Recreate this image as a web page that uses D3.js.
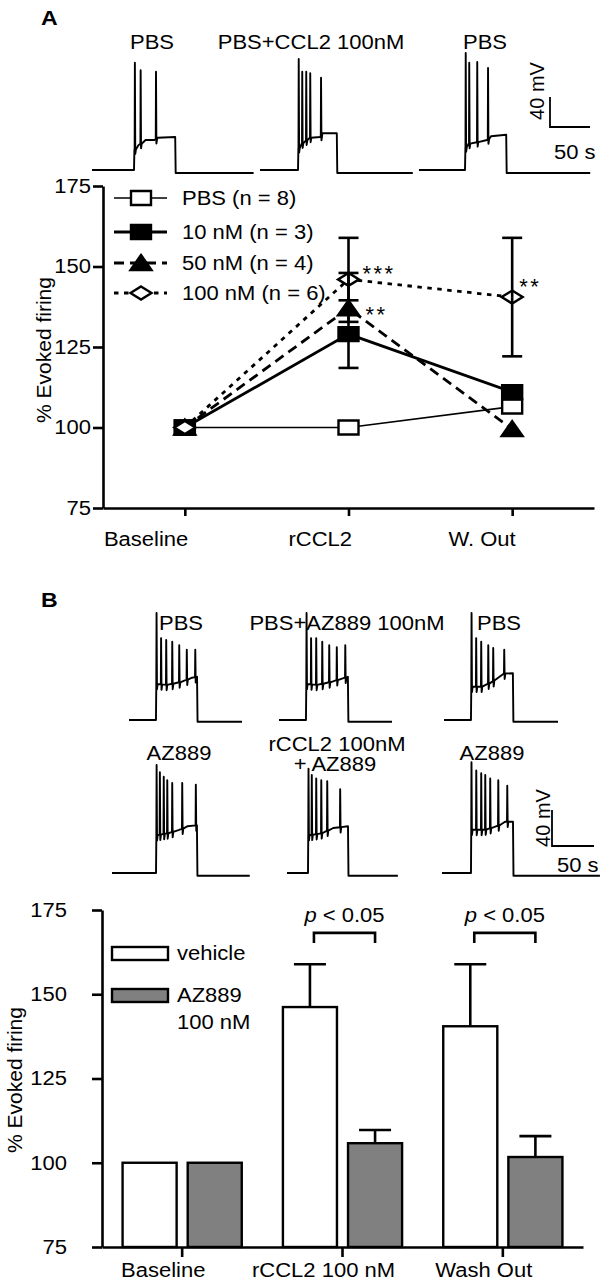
<!DOCTYPE html>
<html><head><meta charset="utf-8">
<script src="https://cdn.jsdelivr.net/npm/d3@7"></script>
<style>
html,body{margin:0;padding:0;background:#fff;}
svg{display:block;font-family:"Liberation Sans",Arial,Helvetica,sans-serif;}
</style></head><body>
<svg id="c" width="600" height="1286"></svg>
<script>
// ================= DATA =================
// Panel A – line chart
const catsA = ["Baseline", "rCCL2", "W. Out"];
const yTickVals = [75, 100, 125, 150, 175];
const seriesNamesA = ["PBS (n = 8)", "10 nM (n = 3)", "50 nM (n = 4)", "100 nM (n = 6)"];
const pbsVals   = [100, 100, 106.5];
const nm10Vals  = [100, 129, 111];
const nm50Vals  = [100, 137, 99.5];
const nm100Vals = [100, 146, 140.5];
const nm10ErrLo  = [null, 118.5, null];
const nm10ErrHi  = [null, 139.5, null];
const nm50ErrLo  = [null, null, null];
const nm50ErrHi  = [null, 148, null];
const nm100ErrLo = [null, 132.8, 122.1];
const nm100ErrHi = [null, 158.9, 158.9];
const sigTextA  = ["***", "**", "**"];
const sigCatA   = ["rCCL2", "rCCL2", "W. Out"];
const sigLevelA = [149.2, 136.5, 145.2];

// Panel B – bar chart
const catsB = ["Baseline", "rCCL2 100 nM", "Wash Out"];
const groupsB = ["vehicle", "AZ889"];
const vehicleVals = [100, 146.2, 140.5];
const vehicleSem  = [0, 12.7, 18.4];
const azVals = [100, 105.8, 101.7];
const azSem  = [0, 3.9, 6.2];
const pLabelCats = ["rCCL2 100 nM", "Wash Out"];
const pLabelLevel = 168.2;

// Example recordings (t in s, v in mV above rest)
const traceLabelsA = ["PBS", "PBS+CCL2 100nM", "PBS"];
const traceA1 = {dur:202, on:52.5, off:104, after:-4,
  plateau:[[53,27],[58,33],[67,40],[78,40],[82,43],[104,44]],
  spikes:[[53.3,143],[60.5,133],[79.7,131]]};
const traceA2 = {dur:191, on:47.5, off:96, after:-4,
  plateau:[[48,29],[52,35],[62,43],[75,44],[78,49],[96,49]],
  spikes:[[48.1,148],[52.5,131],[57.5,131],[62.5,129],[76,123]]};
const traceA3 = {dur:214, on:57.5, off:109, after:-4,
  plateau:[[58,30],[62,35],[72,37],[85,40],[90,45],[109,47]],
  spikes:[[58.1,156],[62.5,143],[72.5,144],[86,136]]};

const traceLabelsB1 = ["PBS", "PBS+AZ889 100nM", "PBS"];
const traceB1 = {dur:134.5, on:32.1, off:81, after:-2,
  plateau:[[32.5,40],[45,39],[60,42],[75,47],[81,48]],
  spikes:[[32.5,119],[37.9,91],[44,89],[51.2,87],[59.5,83],[68.5,78],[78.6,78]]};
const traceB2 = {dur:134.5, on:32.1, off:82, after:-2,
  plateau:[[32.5,40],[45,39],[60,42],[75,46],[82,48]],
  spikes:[[32.5,119],[37.9,91],[44,91],[51.2,87],[59.5,83],[68.5,81],[78.6,83]]};
const traceB3 = {dur:135.7, on:32.1, off:82, after:-2,
  plateau:[[32.5,37],[45,37],[60,44],[72,52],[82,52]],
  spikes:[[32.5,119],[38,91],[44,87],[52.4,83],[58.3,80],[71.4,78]]};

const traceLabelsB2 = ["AZ889", "rCCL2 100nM", "+ AZ889", "AZ889"];
const traceC1 = {dur:164, on:52.4, off:101, after:-3,
  plateau:[[53,42],[65,44],[80,48],[90,52],[101,53]],
  spikes:[[52.8,120],[56.7,112],[61.3,107],[65.5,103],[71.4,100],[83.3,100],[99.5,98]]};
const traceC2 = {dur:132, on:25, off:72.6, after:-3,
  plateau:[[25.5,42],[40,44],[55,50],[72.6,52]],
  spikes:[[25.3,116],[29.2,109],[34.5,105],[40.5,103],[47.6,102],[63,93]]};
const traceC3 = {dur:188, on:34.5, off:84.5, after:-3,
  plateau:[[35,48],[50,48],[65,52],[75,57],[84.5,57]],
  spikes:[[34.8,123],[40.5,114],[46.4,111],[51.2,109],[57.1,105],[66.7,103],[77.4,97]]};

const scaleBarMV = 40, scaleBarS = 50;

// ================= LAYOUT =================
const FS = 20;
const STRETCH = 1.1;
const svg = d3.select("#c");
const font = "'Liberation Sans', Arial, sans-serif";

function txt(g, x, y, s, opts = {}) {
  const t = g.append("text").attr("x", x).attr("y", y).text(s)
    .attr("font-size", opts.size || FS).attr("fill", "#000")
    .attr("text-anchor", opts.anchor || "start");
  if (opts.weight) t.attr("font-weight", opts.weight);
  if (opts.transform) t.attr("transform", opts.transform);
  return t;
}

// ---- trace drawing ----
function tracePoints(tr) {
  const pl = d3.scaleLinear().domain(tr.plateau.map(d => d[0])).range(tr.plateau.map(d => d[1])).clamp(true);
  const ev = [...tr.plateau.map(d => ({t: d[0], k: "p", v: d[1]})),
              ...tr.spikes.map(d => ({t: d[0], k: "s", v: d[1]}))].sort((a, b) => a.t - b.t);
  const pts = [[0, 0], [tr.on, 0]];
  ev.forEach(e => {
    const lastT = pts[pts.length - 1][0];
    if (e.k === "p") { if (e.t >= lastT) pts.push([e.t, e.v]); }
    else {
      const b = pl(e.t);
      pts.push([Math.max(e.t, lastT), b], [e.t + 0.3, e.v], [e.t + 0.8, b - 6], [e.t + 1.6, b]);
    }
  });
  const last = tr.plateau[tr.plateau.length - 1][1];
  const lt = pts[pts.length - 1][0];
  pts.push([Math.max(tr.off, lt), last], [Math.max(tr.off, lt) + 0.6, tr.after], [tr.dur, tr.after]);
  return pts;
}
function drawTrace(tr, x0, restY, pxS, pxMV) {
  const xs = d3.scaleLinear().domain([0, tr.dur]).range([x0, x0 + tr.dur * pxS]);
  const ys = d3.scaleLinear().domain([0, 40]).range([restY, restY - 40 * pxMV]);
  svg.append("path").attr("d", d3.line().x(d => xs(d[0])).y(d => ys(d[1]))(tracePoints(tr)))
    .attr("fill", "none").attr("stroke", "#000").attr("stroke-width", 1.9)
    .attr("stroke-linejoin", "round");
}
function drawScaleBar(x, y, pxS, pxMV) {
  const xs = d3.scaleLinear().domain([0, scaleBarS]).range([x, x + scaleBarS * pxS]);
  const ys = d3.scaleLinear().domain([0, scaleBarMV]).range([y, y - scaleBarMV * pxMV]);
  svg.append("path").attr("d", `M${xs(0)},${ys(scaleBarMV)}V${ys(0)}H${xs(scaleBarS)}`)
    .attr("fill", "none").attr("stroke", "#000").attr("stroke-width", 1.8);
}

// ---- Panel A traces ----
txt(svg, 41, 25, "A", {weight: "bold", size: 21});
const pA = {pxS: 0.8, pxMV: 0.75, restY: 170, x0: [92, 260, 419]};
[traceA1, traceA2, traceA3].forEach((t, i) => drawTrace(t, pA.x0[i], pA.restY, pA.pxS, pA.pxMV));
[[152, traceLabelsA[0]], [311, traceLabelsA[1]], [485, traceLabelsA[2]]]
  .forEach(([x, s]) => txt(svg, x, 49, s, {anchor: "middle"}));
drawScaleBar(550, 127, pA.pxS, pA.pxMV);
txt(svg, 0, 0, scaleBarMV + " mV", {anchor: "middle", transform: "translate(544,91) rotate(-90)"}).classed("rot", true);
txt(svg, 554, 159, scaleBarS + " s");

// ---- Panel A chart ----
const xA = d3.scalePoint().domain(catsA).range([103, 594]).padding(0.5);
const yA = d3.scaleLinear().domain([75, 175]).range([508, 186]);

const gA = svg.append("g");
const axL = gA.append("g").attr("transform", "translate(103,0)")
  .call(d3.axisLeft(yA).tickValues(yTickVals).tickSize(10).tickSizeOuter(0).tickPadding(2));
const axB = gA.append("g").attr("transform", "translate(0,508)")
  .call(d3.axisBottom(xA).tickSize(8).tickSizeOuter(0).tickPadding(16));
[axL, axB].forEach(a => {
  a.selectAll("path,line").attr("stroke", "#000").attr("stroke-width", 2.6);
  a.selectAll("text").attr("font-size", FS).attr("font-family", font).attr("fill", "#000");
});
axB.selectAll("text").attr("text-anchor", "end").attr("dx", 3);
txt(gA, 0, 0, "% Evoked firing", {anchor: "middle", size: 21, transform: "translate(51,350) rotate(-90)"}).classed("rot", true);

function markerPath(type) {
  if (type === "square") return "M-10,-7h20v14h-20Z";
  if (type === "triangle") return "M0,-8L10.5,7L-10.5,7Z";
  return "M0,-6.5L10.5,0L0,6.5L-10.5,0Z";
}
const seriesA = [
  {name: seriesNamesA[0], vals: pbsVals,  lo: [null,null,null], hi: [null,null,null], dash: null,     w: 1.7, marker: "square",   fill: "#fff"},
  {name: seriesNamesA[1], vals: nm10Vals, lo: nm10ErrLo,  hi: nm10ErrHi,  dash: null,     w: 2.8, marker: "square",   fill: "#000"},
  {name: seriesNamesA[2], vals: nm50Vals, lo: nm50ErrLo,  hi: nm50ErrHi,  dash: "10,6",   w: 2.8, marker: "triangle", fill: "#000"},
  {name: seriesNamesA[3], vals: nm100Vals,lo: nm100ErrLo, hi: nm100ErrHi, dash: "4.5,5.5", w: 2.8, marker: "diamond",  fill: "#fff"}
];
const lineA = d3.line().x((d, i) => xA(catsA[i])).y(d => yA(d));
seriesA.forEach(s => {
  gA.append("path").attr("d", lineA(s.vals)).attr("fill", "none").attr("stroke", "#000")
    .attr("stroke-width", s.w).attr("stroke-dasharray", s.dash);
});
seriesA.forEach(s => {
  s.vals.forEach((v, i) => {
    gA.append("path").attr("d", markerPath(s.marker))
      .attr("transform", `translate(${xA(catsA[i])},${yA(v)})`)
      .attr("fill", s.fill).attr("stroke", "#000").attr("stroke-width", 2.4);
  });
});
seriesA.forEach(s => {
  s.vals.forEach((v, i) => {
    const x = xA(catsA[i]);
    [s.lo[i], s.hi[i]].forEach(e => {
      if (e == null) return;
      gA.append("line").attr("x1", x).attr("x2", x).attr("y1", yA(v)).attr("y2", yA(e))
        .attr("stroke", "#000").attr("stroke-width", 2.6);
      gA.append("line").attr("x1", x - 10).attr("x2", x + 10).attr("y1", yA(e)).attr("y2", yA(e))
        .attr("stroke", "#000").attr("stroke-width", 2.6);
    });
  });
});
sigTextA.forEach((s, i) => {
  const dx = i === 2 ? 7 : (i === 0 ? 14 : 17);
  txt(gA, xA(sigCatA[i]) + dx, yA(sigLevelA[i]) + 12, s, {size: 22})
    .attr("letter-spacing", 2.5).classed("rot", true);
});
// legend A
const legRowsA = [198, 232, 263, 293];
seriesA.forEach((s, i) => {
  const y = legRowsA[i];
  gA.append("line").attr("x1", 114).attr("x2", 167).attr("y1", y).attr("y2", y)
    .attr("stroke", "#000").attr("stroke-width", s.w).attr("stroke-dasharray", s.dash);
  gA.append("path").attr("d", markerPath(s.marker)).attr("transform", `translate(141,${y})`)
    .attr("fill", s.fill).attr("stroke", "#000").attr("stroke-width", 2.4);
  txt(gA, 182, y + 7, s.name);
});

// ---- Panel B traces ----
txt(svg, 41, 607, "B", {weight: "bold", size: 21});
const pB = {pxS: 0.84, pxMV: 0.9, restY1: 720, restY2: 873, x01: [129, 279, 444], x02: [112, 287, 442]};
[traceB1, traceB2, traceB3].forEach((t, i) => drawTrace(t, pB.x01[i], pB.restY1, pB.pxS, pB.pxMV));
[traceC1, traceC2, traceC3].forEach((t, i) => drawTrace(t, pB.x02[i], pB.restY2, pB.pxS, pB.pxMV));
txt(svg, 159, 630, traceLabelsB1[0]);
txt(svg, 347, 630, traceLabelsB1[1], {anchor: "middle"});
txt(svg, 477, 630, traceLabelsB1[2]);
txt(svg, 179, 760, traceLabelsB2[0], {anchor: "middle"});
txt(svg, 337, 751, traceLabelsB2[1], {anchor: "middle"});
txt(svg, 335, 771, traceLabelsB2[2], {anchor: "middle"});
txt(svg, 492, 760, traceLabelsB2[3], {anchor: "middle"});
drawScaleBar(552, 846, pB.pxS, pB.pxMV);
txt(svg, 0, 0, scaleBarMV + " mV", {anchor: "middle", transform: "translate(550,818) rotate(-90)"}).classed("rot", true);
txt(svg, 557, 872, scaleBarS + " s");

// ---- Panel B chart ----
const xB = d3.scaleBand().domain(catsB).range([102, 583]);
const xB1 = d3.scaleBand().domain(groupsB).range([0, xB.bandwidth()]).paddingInner(0.17).paddingOuter(0.316);
const yB = d3.scaleLinear().domain([75, 175]).range([1247, 910]);
const gB = svg.append("g");
const bL = gB.append("g").attr("transform", "translate(102,0)")
  .call(d3.axisLeft(yB).tickValues(yTickVals).tickSize(10).tickSizeOuter(0).tickPadding(25));
const bB = gB.append("g").attr("transform", "translate(0,1247)")
  .call(d3.axisBottom(xB).tickSize(10).tickSizeOuter(0).tickPadding(6));
[bL, bB].forEach(a => {
  a.selectAll("path,line").attr("stroke", "#000").attr("stroke-width", 2.6);
  a.selectAll("text").attr("font-size", FS).attr("font-family", font).attr("fill", "#000");
});
bB.selectAll("text").attr("dx", -19);
txt(gB, 0, 0, "% Evoked firing", {anchor: "middle", size: 21, transform: "translate(22,1080) rotate(-90)"}).classed("rot", true);

const barSeries = [
  {g: groupsB[0], vals: vehicleVals, sem: vehicleSem, fill: "#fff"},
  {g: groupsB[1], vals: azVals, sem: azSem, fill: "#808080"}
];
barSeries.forEach(s => {
  s.vals.forEach((v, i) => {
    const x = xB(catsB[i]) + xB1(s.g), w = xB1.bandwidth(), cx = x + w / 2;
    if (s.sem[i] > 0) {
      gB.append("line").attr("x1", cx).attr("x2", cx).attr("y1", yB(v)).attr("y2", yB(v + s.sem[i]))
        .attr("stroke", "#000").attr("stroke-width", 2.6);
      gB.append("line").attr("x1", cx - 16).attr("x2", cx + 16).attr("y1", yB(v + s.sem[i])).attr("y2", yB(v + s.sem[i]))
        .attr("stroke", "#000").attr("stroke-width", 2.6);
    }
    gB.append("rect").attr("x", x).attr("y", yB(v)).attr("width", w).attr("height", yB(75) - yB(v))
      .attr("fill", s.fill).attr("stroke", "#000").attr("stroke-width", 2.4);
  });
});
pLabelCats.forEach(c => {
  const x1 = xB(c) + xB1(groupsB[0]) + xB1.bandwidth() / 2 + 4;
  const x2 = xB(c) + xB1(groupsB[1]) + xB1.bandwidth() / 2;
  const y = yB(pLabelLevel);
  gB.append("path").attr("d", `M${x1},${y + 10}V${y}H${x2}V${y + 10}`)
    .attr("fill", "none").attr("stroke", "#000").attr("stroke-width", 2.6);
  const t = gB.append("text").attr("x", (x1 + x2) / 2).attr("y", y - 11).attr("text-anchor", "middle")
    .attr("font-size", FS);
  t.append("tspan").attr("font-style", "italic").text("p");
  t.append("tspan").text(" < 0.05");
});
// legend B
[[947, "#fff", "vehicle"], [989, "#808080", "AZ889"]].forEach(([y, f, s]) => {
  gB.append("rect").attr("x", 112).attr("y", y).attr("width", 56).attr("height", 13)
    .attr("fill", f).attr("stroke", "#000").attr("stroke-width", 2.4);
  txt(gB, 177, y + 13, s);
});
txt(gB, 177, 1029, "100 nM");

// horizontal widening of glyphs to match the reference's wide lettering
svg.selectAll("text").filter(function () { return !this.classList.contains("rot"); }).each(function () {
  const L = this.getComputedTextLength();
  this.setAttribute("textLength", (L * STRETCH).toFixed(1));
  this.setAttribute("lengthAdjust", "spacingAndGlyphs");
});
</script>
</body></html>
